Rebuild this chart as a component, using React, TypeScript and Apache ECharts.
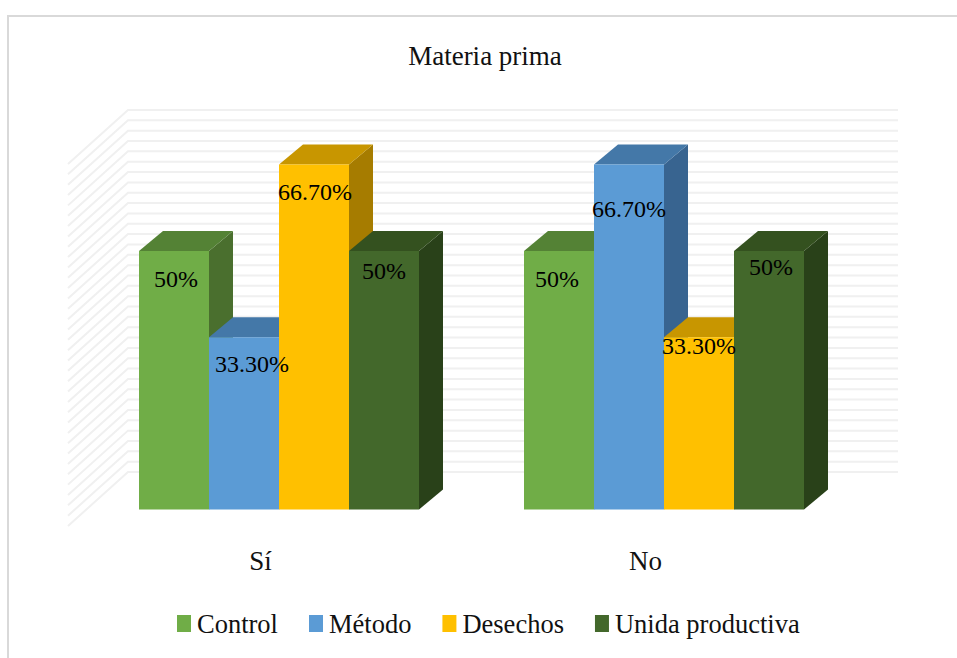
import React, { useEffect, useRef } from "react";
import * as echarts from "echarts";

const titleText = "Materia prima";
const categories = ["Sí", "No"];
const seriesNames = ["Control", "Método", "Desechos", "Unida productiva"];
const controlValues = [50, 50];
const metodoValues = [33.3, 66.7];
const desechosValues = [66.7, 33.3];
const unidaValues = [50, 50];
const controlLabels = ["50%", "50%"];
const metodoLabels = ["33.30%", "66.70%"];
const desechosLabels = ["66.70%", "33.30%"];
const unidaLabels = ["50%", "50%"];
const gridTicks = [0, 2, 4, 6, 8, 10, 12, 14, 16, 18, 20, 22, 24, 26, 28, 30, 32, 34, 36, 38, 40, 42, 44, 46, 48, 50, 52, 54, 56, 58, 60, 62, 64, 66, 68, 70];

const allValues = [controlValues, metodoValues, desechosValues, unidaValues];
const allLabels = [controlLabels, metodoLabels, desechosLabels, unidaLabels];

const FONT = '"Liberation Serif", "Times New Roman", serif';
const INK = "#111111";
// front, top, side
const shades = [
  ["#70ad47", "#548235", "#4a6f2e"],
  ["#5b9bd5", "#4478a8", "#386490"],
  ["#ffc000", "#c89600", "#a67c00"],
  ["#43682b", "#34511f", "#294119"],
];
// hand placement of each data label, relative to the top centre of the front face
const labelNudge = [
  [[2, 28], [-2, 28]],
  [[8, 27], [0, 44]],
  [[1, 27], [0, 9]],
  [[0, 20], [2, 16]],
];

const BAR_RATIO = 70 / 385;
const FLOOR_DX = 60;
const FLOOR_DY = -54;
const BAR_DX = 18.5;
const BAR_DY = -16.5;
const DEPTH_DX = 24;
const DEPTH_DY = -20;

function wallRenderer(_params: any, api: any) {
  const band = api.size([1, 0])[0];
  const v = api.value(0);
  const p = api.coord([0, v]);
  const left = p[0] - band / 2;
  const right = left + band * 2 + FLOOR_DX;
  const y = p[1];
  return {
    type: "polyline",
    silent: true,
    shape: {
      points: [
        [left, y],
        [left + FLOOR_DX, y + FLOOR_DY],
        [right, y + FLOOR_DY],
      ],
    },
    style: { stroke: "#f0f0f0", lineWidth: 2, fill: "none" },
  };
}

function barRenderer(sIdx: number) {
  return (_params: any, api: any) => {
    const cat = api.value(0);
    const val = api.value(1);
    const band = api.size([1, 0])[0];
    const w = band * BAR_RATIO;
    const top = api.coord([cat, val]);
    const base = api.coord([cat, 0]);
    const x0 = top[0] + BAR_DX - 2 * w + sIdx * w;
    const x1 = x0 + w;
    const yT = top[1] + BAR_DY;
    const yB = base[1] + BAR_DY;
    const [front, topC, side] = shades[sIdx];
    const nudge = labelNudge[sIdx][cat];
    return {
      type: "group",
      children: [
        {
          type: "polygon",
          z2: sIdx,
          shape: { points: [[x1, yT], [x1 + DEPTH_DX, yT + DEPTH_DY], [x1 + DEPTH_DX, yB + DEPTH_DY], [x1, yB]] },
          style: { fill: side },
        },
        {
          type: "polygon",
          z2: sIdx,
          shape: { points: [[x0, yT], [x0 + DEPTH_DX, yT + DEPTH_DY], [x1 + DEPTH_DX, yT + DEPTH_DY], [x1, yT]] },
          style: { fill: topC },
        },
        {
          type: "rect",
          z2: sIdx,
          shape: { x: x0, y: yT, width: w, height: yB - yT },
          style: { fill: front },
        },
        {
          type: "text",
          z2: 100,
          style: {
            x: (x0 + x1) / 2 + nudge[0],
            y: yT + nudge[1],
            text: allLabels[sIdx][cat],
            font: `24px ${FONT}`,
            fill: "#000000",
            textAlign: "center",
            verticalAlign: "middle",
          },
        },
      ],
    };
  };
}

export default function App() {
  const ref = useRef<HTMLDivElement>(null);
  useEffect(() => {
    const chart = echarts.init(ref.current!, null, { renderer: "svg" });
    chart.setOption({
      animation: false,
      backgroundColor: "#ffffff",
      title: {
        text: titleText,
        left: 480,
        top: 37,
        textAlign: "center",
        textStyle: { fontFamily: FONT, fontSize: 27, fontWeight: "normal", color: INK },
      },
      legend: {
        data: seriesNames,
        left: 177,
        top: 610,
        padding: 0,
        icon: "rect",
        itemWidth: 14,
        itemHeight: 17,
        itemGap: 31,
        textStyle: { fontFamily: FONT, fontSize: 26.5, color: INK, padding: [0, 0, 0, 1] },
        selectedMode: false,
      },
      grid: { left: 68, width: 770, top: 164, height: 362 },
      xAxis: {
        type: "category",
        data: categories,
        axisLine: { show: false },
        axisTick: { show: false },
        axisLabel: { margin: 21, fontFamily: FONT, fontSize: 27, color: INK },
      },
      yAxis: { type: "value", min: 0, max: 70, interval: 2, show: false },
      graphic: [
        {
          type: "rect",
          silent: true,
          z: -1,
          shape: { x: 8, y: 16, width: 1100, height: 800 },
          style: { fill: "none", stroke: "#d9d9d9", lineWidth: 2 },
        },
      ],
      series: [
        {
          type: "custom",
          name: "wall",
          silent: true,
          clip: false,
          z: 1,
          data: gridTicks.map((t) => [0, t]),
          encode: { x: 0, y: 1 },
          renderItem: (params: any, api: any) =>
            wallRenderer(params, { value: () => api.value(1), size: api.size, coord: api.coord }),
        },
        ...seriesNames.map((name, i) => ({
          type: "custom",
          name,
          clip: false,
          z: 2,
          itemStyle: { color: shades[i][0] },
          encode: { x: 0, y: 1 },
          data: allValues[i].map((v, c) => [c, v]),
          renderItem: barRenderer(i),
        })),
      ],
    });
    return () => chart.dispose();
  }, []);
  return <div ref={ref} style={{ position: "absolute", left: 0, top: 0, width: 957, height: 658 }} />;
}
